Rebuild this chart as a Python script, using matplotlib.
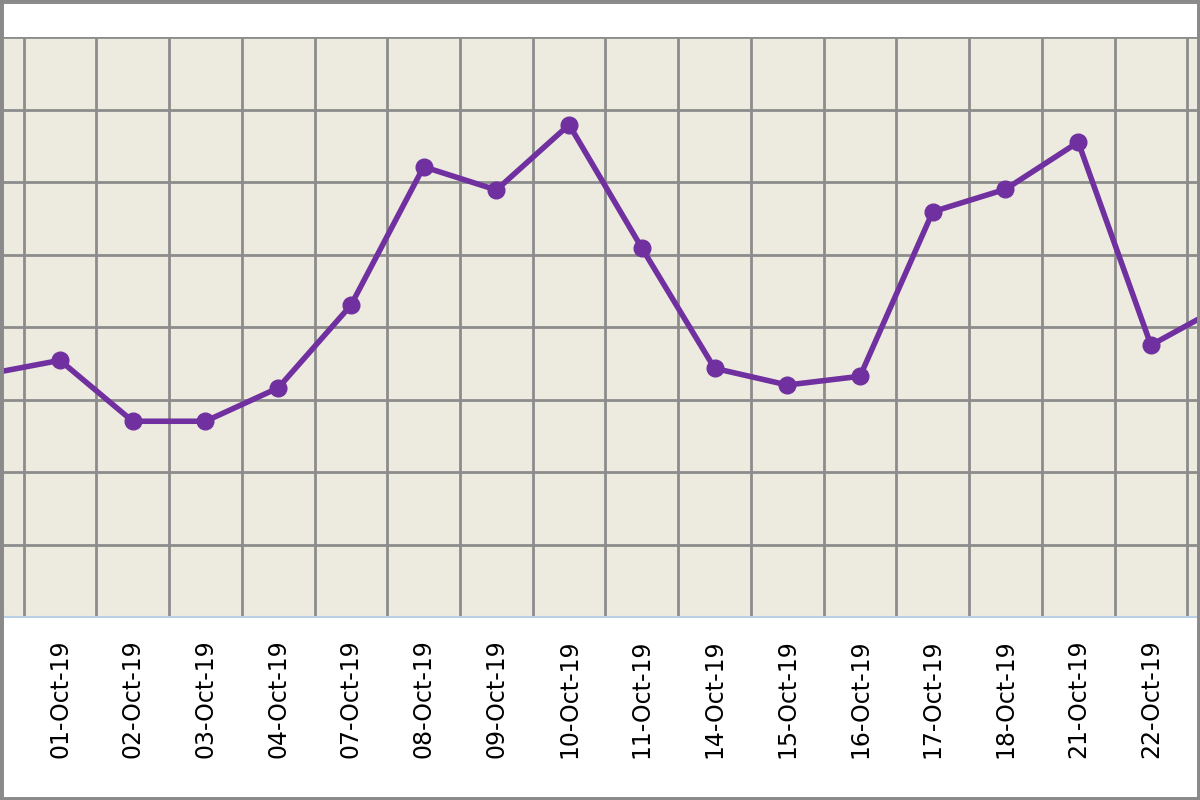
import matplotlib
matplotlib.use("Agg")
import matplotlib.pyplot as plt
from matplotlib.patches import Rectangle

dates = ["30-Sep-19","01-Oct-19","02-Oct-19","03-Oct-19","04-Oct-19","07-Oct-19","08-Oct-19",
         "09-Oct-19","10-Oct-19","11-Oct-19","14-Oct-19","15-Oct-19","16-Oct-19","17-Oct-19",
         "18-Oct-19","21-Oct-19","22-Oct-19","23-Oct-19"]
values = [3.35, 3.54, 2.70, 2.70, 3.16, 4.30, 6.21, 5.89, 6.79, 5.09, 3.43, 3.20, 3.32, 5.59,
          5.90, 6.55, 3.75, 4.30]

W, H = 1200, 800
fig = plt.figure(figsize=(12, 8), dpi=100)
fig.patch.set_facecolor("white")
step = 72.73
n = len(dates)
left_px = 60 - step - step / 2
ax = fig.add_axes([left_px / W, 183 / H, n * step / W, 580 / H])
ax.set_facecolor("#edeae0")
x = list(range(n))
ax.plot(x, values, color="#7030a0", lw=4, marker="o", ms=12, zorder=3)
ax.set_xlim(-0.5, n - 0.5)
ax.set_ylim(0, 8)
ax.set_xticks(x)
ax.set_xticklabels(dates, rotation=90, fontsize=17, va="top")
ax.get_xticklabels()[0].set_color("#00b0f0")
ax.set_xticks([i + 0.5 for i in range(-1, n)], minor=True)
ax.set_yticks(range(0, 9))
ax.set_yticklabels([])
ax.tick_params(axis="x", which="both", length=0, pad=16)
ax.tick_params(axis="y", length=0)
ax.grid(which="minor", axis="x", color="#8c8c8c", lw=2)
ax.grid(which="major", axis="y", color="#8c8c8c", lw=2)
for s in ["top", "left", "right"]:
    ax.spines[s].set_visible(False)
ax.spines["bottom"].set_color("#b8cfe6")
ax.spines["bottom"].set_linewidth(1.5)
fig.patches.append(Rectangle((0, 0), 1, 1, transform=fig.transFigure, fill=False,
                             edgecolor="#8a8a8a", lw=5, zorder=10))
fig.savefig("out.png", dpi=100)
